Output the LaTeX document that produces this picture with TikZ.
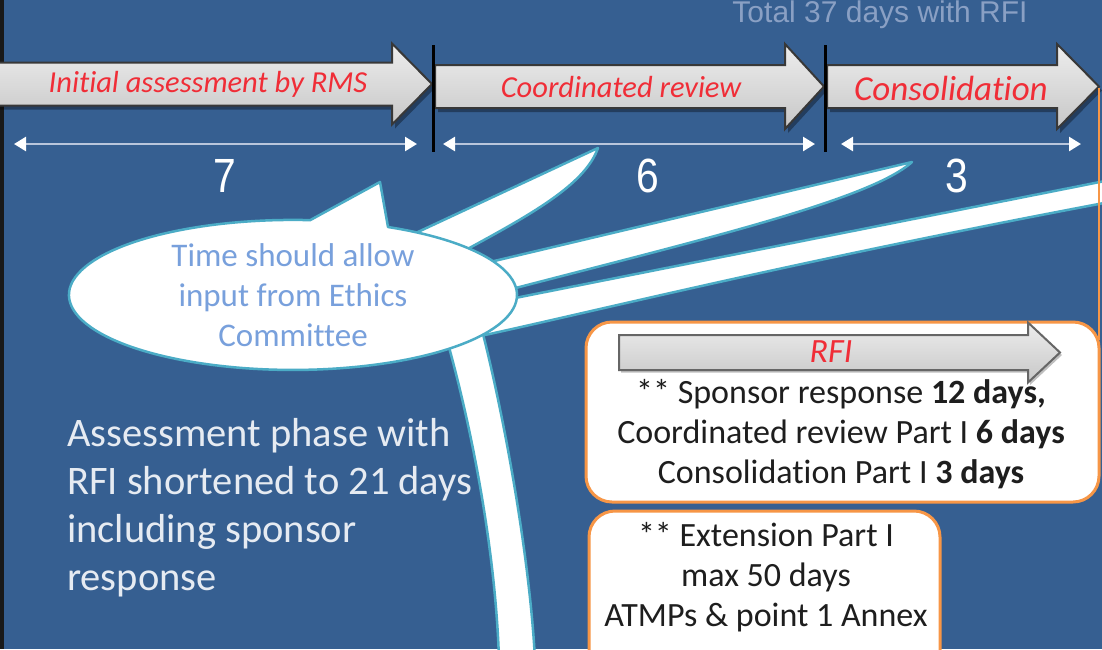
\documentclass[tikz,border=0pt]{standalone}
\usepackage{fontspec}
\setmainfont[Ligatures=NoCommon]{Carlito}
\newfontfamily\arialf{Liberation Sans}
\usetikzlibrary{arrows.meta}
\definecolor{bg}{RGB}{54,95,145}
\definecolor{tealc}{RGB}{75,172,198}
\definecolor{orangec}{RGB}{247,150,70}
\definecolor{labelred}{RGB}{240,45,55}
\definecolor{calloutblue}{RGB}{120,160,220}
\definecolor{dimline}{RGB}{185,198,220}
\definecolor{totalc}{RGB}{138,160,196}
\definecolor{softwhite}{RGB}{230,235,242}
\definecolor{textdark}{RGB}{30,30,30}

% closed outline of a block arrow: start x, head base x, tip x, centre y, half shaft, half head
\newcommand{\arrowpath}[6]{(#1,#4-#5) -- (#2,#4-#5) -- (#2,#4-#6) -- (#3,#4) -- (#2,#4+#6) -- (#2,#4+#5) -- (#1,#4+#5) -- cycle}

\tikzset{
  bararrow/.style={top color=black!7, bottom color=black!22, draw=black!78, line width=2pt, line join=miter},
  barshadow/.style={fill=black, opacity=0.35, shift={(3,4)}},
  phaselabel/.style={text=labelred, font=\itshape\fontsize{30.5}{32}\selectfont, inner sep=0pt},
  dimarrow/.style={draw=dimline, line width=2.5pt, {Triangle[width=14pt,length=12pt,fill=white,color=white]}-{Triangle[width=14pt,length=12pt,fill=white,color=white]}},
  daycount/.style={text=white, font=\arialf\fontsize{48}{50}\selectfont, inner sep=0pt, xscale=0.85},
  separator/.style={draw=black, line width=3pt},
  ray/.style={fill=white, draw=tealc, line width=2.5pt, line join=round},
  infobox/.style={fill=white, draw=orangec, line width=3pt, rounded corners=26pt},
  boxtext/.style={text=textdark, font=\fontsize{34}{40}\selectfont, align=center, inner sep=0pt}
}

\begin{document}
\begin{tikzpicture}[x=1pt, y=-1pt]
\useasboundingbox (0,0) rectangle (1102,649);
\clip (0,0) rectangle (1102,649);
\fill[bg] (0,0) rectangle (1102,649);
\fill[black!90] (0,0) rectangle (4,649);

% total duration
\node[text=totalc, font=\arialf\fontsize{30}{32}\selectfont, inner sep=0pt] (total) at (880,15) {Total 37 days with RFI};

% phase arrows
\fill[barshadow] \arrowpath{-5}{392}{432}{84}{21.5}{40.5};
\fill[barshadow] \arrowpath{435}{785}{824}{86.5}{21.5}{42.5};
\fill[barshadow] \arrowpath{827}{1057}{1099}{86.5}{21.5}{42.5};
\path[bararrow] \arrowpath{-5}{392}{432}{84}{21.5}{40.5};
\path[bararrow] \arrowpath{435}{785}{824}{86.5}{21.5}{42.5};
\path[bararrow] \arrowpath{827}{1057}{1099}{86.5}{21.5}{42.5};

\node[phaselabel] (initial) at (208,84) {Initial assessment by RMS};
\node[phaselabel] (coord) at (621,87) {Coordinated review};
\node[phaselabel, font=\itshape\fontsize{35}{36}\selectfont] (consol) at (951,88) {Consolidation};

% phase boundaries
\coordinate (s1a) at (433,45); \coordinate (s1b) at (433,152);
\coordinate (s2a) at (825,45); \coordinate (s2b) at (825,152);
\draw[separator] (s1a) -- (s1b);
\draw[separator] (s2a) -- (s2b);

% durations
\coordinate (d1a) at (14,144);  \coordinate (d1b) at (417,144);
\coordinate (d2a) at (443,144); \coordinate (d2b) at (815,144);
\coordinate (d3a) at (841,144); \coordinate (d3b) at (1081,144);
\draw[dimarrow] (d1a) -- (d1b);
\draw[dimarrow] (d2a) -- (d2b);
\draw[dimarrow] (d3a) -- (d3b);
\node[daycount] (n7) at (225,176) {7};
\node[daycount] (n6) at (648,176) {6};
\node[daycount] (n3) at (957,176) {3};

% rays leaving the callout
\path[ray] (505,300) -- (1120,178) -- (1120,200) .. controls (800,260) and (600,310) .. (485,335) -- cycle;
\path[ray] (490,262) -- (912,162) .. controls (870,200) and (700,240) .. (508,290) -- cycle;
\path[ray] (405,238) -- (598,148) .. controls (585,185) and (530,215) .. (462,252) -- cycle;
\path[ray] (447,340) .. controls (475,440) and (496,560) .. (499,660) -- (535,660) .. controls (530,560) and (505,420) .. (482,330) -- cycle;

% callout body with its pointer
\path[fill=white, draw=tealc, line width=2.5pt, line join=round]
  (388,227) arc[start angle=-64.9, end angle=274.4, x radius=224, y radius=75] -- (380,182) -- cycle;
\node[text=calloutblue, font=\fontsize{33}{40}\selectfont, align=center, inner sep=0pt] (callout) at (293,295)
  {Time should allow\\input from Ethics\\Committee};

% summary text
\node[text=softwhite, font=\fontsize{40.5}{48}\selectfont, align=left, anchor=north west, inner sep=0pt] (summary) at (67,418)
  {Assessment phase with\\RFI shortened to 21 days\\including sponsor\\response};

% side marker
\draw[orangec, line width=2.5pt] (1099,88) -- (1099,340);

% RFI box
\path[infobox] (586,322) rectangle (1099,502);
\fill[black, opacity=0.25] \arrowpath{621}{1030}{1062}{355}{17.5}{30};
\path[bararrow, draw=black!60] \arrowpath{619}{1028}{1060}{352.5}{17.5}{30};
\node[phaselabel, font=\itshape\fontsize{34}{36}\selectfont] (rfi) at (831,352) {RFI};
\node[boxtext] (rfitext) at (841,434)
  {** Sponsor response \textbf{12 days,}\\Coordinated review Part I \textbf{6 days}\\Consolidation Part I \textbf{3 days}};

% extension box
\path[infobox] (589,511) rectangle (940,700);
\node[boxtext, anchor=north] (exttext) at (766,522)
  {** Extension Part I\\max 50 days\\ATMPs \& point 1 Annex};
\end{tikzpicture}
\end{document}
